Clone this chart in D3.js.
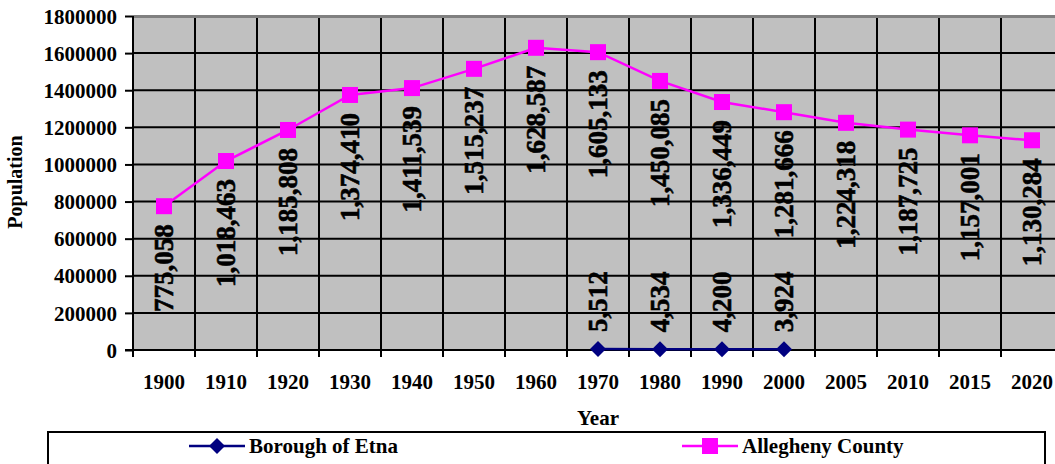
<!DOCTYPE html>
<html><head><meta charset="utf-8">
<script src="https://cdn.jsdelivr.net/npm/d3@7"></script>
<style>
html,body{margin:0;padding:0;background:#fff;overflow:hidden;}
svg{display:block;}
svg text{font-family:"Liberation Serif","Times New Roman",serif;font-weight:bold;}
</style></head><body>
<svg id="c" width="1055" height="464"></svg>
<script>
const years = ["1900","1910","1920","1930","1940","1950","1960","1970","1980","1990","2000","2005","2010","2015","2020"];
const allegheny = [775058,1018463,1185808,1374410,1411539,1515237,1628587,1605133,1450085,1336449,1281666,1224318,1187725,1157001,1130284];
const etnaYears = ["1970","1980","1990","2000"];
const etna = [5512,4534,4200,3924];
const yTicks = [0,200000,400000,600000,800000,1000000,1200000,1400000,1600000,1800000];
const seriesNames = ["Borough of Etna","Allegheny County"];

const svg = d3.select("#c");
const L = 133, R = 133 + 62*years.length, T = 16, B = 350;
const x = d3.scaleBand().domain(years).range([L, R]).padding(0);
const y = d3.scaleLinear().domain([0, 1800000]).range([B, T]);
const fmt = d3.format(",");

// plot background
svg.append("rect").attr("x", L).attr("y", T).attr("width", R - L).attr("height", B - T).attr("fill", "#C0C0C0");

// horizontal gridlines
svg.append("g").selectAll("line").data(yTicks.filter(d => d > 0 && d < 1800000)).join("line")
  .attr("x1", L).attr("x2", R).attr("y1", d => y(d)).attr("y2", d => y(d))
  .attr("stroke", "#000").attr("stroke-width", 2);
// vertical gridlines (category boundaries)
svg.append("g").selectAll("line").data(years.slice(1)).join("line")
  .attr("x1", d => x(d)).attr("x2", d => x(d)).attr("y1", T).attr("y2", B + 7)
  .attr("stroke", "#000").attr("stroke-width", 2);
// top border
svg.append("line").attr("x1", L).attr("x2", R).attr("y1", T + 0.5).attr("y2", T + 0.5)
  .attr("stroke", "#808080").attr("stroke-width", 3);

// y axis
const yAxis = d3.axisLeft(y).tickValues(yTicks).tickSize(8).tickPadding(8).tickFormat(d => String(d));
const gy = svg.append("g").attr("transform", `translate(${L},0)`).call(yAxis);
gy.attr("font-family", null).attr("font-size", null);
gy.select(".domain").attr("stroke", "#000").attr("stroke-width", 2).attr("d", `M0,${T}V${B + 7}`);
gy.selectAll(".tick line").attr("stroke", "#000").attr("stroke-width", 2);
gy.selectAll(".tick text").attr("font-size", 21).attr("fill", "#000")
  .attr("x", -16).attr("dy", "0.34em");

// x axis
const xAxis = d3.axisBottom(x).tickSize(0).tickPadding(0);
const gx = svg.append("g").attr("transform", `translate(0,${B})`).call(xAxis);
gx.attr("font-family", null).attr("font-size", null);
gx.select(".domain").attr("stroke", "#000").attr("stroke-width", 2).attr("d", `M${L - 8},0H${R}`);
gx.selectAll(".tick text").attr("font-size", 21).attr("fill", "#000")
  .attr("y", 39).attr("dy", 0);
svg.append("line").attr("x1", L).attr("x2", L).attr("y1", B).attr("y2", B + 7).attr("stroke", "#000").attr("stroke-width", 2);

// Allegheny line
const cx = d => x(d) + x.bandwidth() / 2;
const aData = years.map((yr, i) => ({yr, v: allegheny[i]}));
svg.append("path").datum(aData)
  .attr("d", d3.line().x(d => cx(d.yr)).y(d => y(d.v)))
  .attr("fill", "none").attr("stroke", "#FF00FF").attr("stroke-width", 2.5);
svg.append("g").selectAll("rect").data(aData).join("rect")
  .attr("x", d => cx(d.yr) - 8).attr("y", d => y(d.v) - 8).attr("width", 16).attr("height", 16)
  .attr("fill", "#FF00FF");

// Etna line
const eData = etnaYears.map((yr, i) => ({yr, v: etna[i]}));
svg.append("path").datum(eData)
  .attr("d", d3.line().x(d => cx(d.yr)).y(d => y(d.v)))
  .attr("fill", "none").attr("stroke", "#000080").attr("stroke-width", 2.5);
const diamond = "M0,-8L8,0L0,8L-8,0Z";
svg.append("g").selectAll("path").data(eData).join("path")
  .attr("transform", d => `translate(${cx(d.yr)},${y(d.v)})`).attr("d", diamond).attr("fill", "#000080");

// data labels
svg.append("g").selectAll("text").data(aData).join("text")
  .attr("transform", d => `translate(${cx(d.yr)},${y(d.v) + 18}) rotate(-90)`)
  .attr("text-anchor", "end").attr("dy", "0.34em")
  .attr("font-size", 27).attr("fill", "#000").attr("stroke", "#000").attr("stroke-width", 0.6)
  .text(d => fmt(d.v));
svg.append("g").selectAll("text").data(eData).join("text")
  .attr("transform", d => `translate(${cx(d.yr)},${y(d.v) - 17}) rotate(-90)`)
  .attr("text-anchor", "start").attr("dy", "0.34em")
  .attr("font-size", 27).attr("fill", "#000").attr("stroke", "#000").attr("stroke-width", 0.6)
  .text(d => fmt(d.v));

// axis titles
svg.append("text").attr("transform", "translate(22,182) rotate(-90)").attr("text-anchor", "middle")
  .attr("font-size", 20).text("Population");
svg.append("text").attr("x", 598).attr("y", 425).attr("text-anchor", "middle")
  .attr("font-size", 21).text("Year");

// legend
svg.append("rect").attr("x", 48).attr("y", 432).attr("width", 997).attr("height", 60)
  .attr("fill", "#fff").attr("stroke", "#000").attr("stroke-width", 2);
const legendItems = [
  {name: seriesNames[0], x0: 189, color: "#000080", shape: "diamond"},
  {name: seriesNames[1], x0: 682, color: "#FF00FF", shape: "square"}
];
const lg = svg.append("g").selectAll("g").data(legendItems).join("g")
  .attr("transform", d => `translate(${d.x0},446)`);
lg.append("line").attr("x1", 0).attr("x2", 56).attr("stroke", d => d.color).attr("stroke-width", 2.5);
lg.filter(d => d.shape === "diamond").append("path").attr("transform", "translate(28,0)").attr("d", diamond).attr("fill", d => d.color);
lg.filter(d => d.shape === "square").append("rect").attr("x", 20).attr("y", -8).attr("width", 16).attr("height", 16).attr("fill", d => d.color);
lg.append("text").attr("x", 60).attr("y", 7).attr("font-size", 21).text(d => d.name);
</script>
</body></html>
